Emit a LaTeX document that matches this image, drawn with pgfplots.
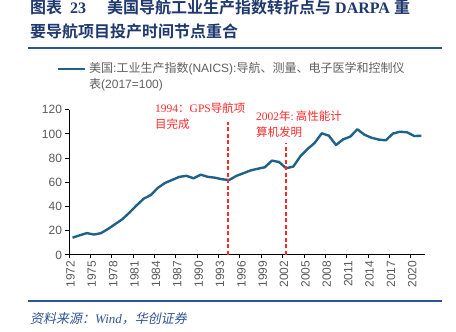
\documentclass[border=0pt]{standalone}
\usepackage{pgfplots}
\pgfplotsset{compat=1.18}
\usepackage{pgfplotstable}
\usepackage{fontspec}
\setmainfont{Liberation Sans}
\newfontfamily\cjk{Noto Sans CJK SC}
\newfontfamily\cjkb{Noto Sans CJK SC Bold}
\newfontfamily\cjki{Noto Sans CJK SC}[FakeSlant=0.2]
\newfontfamily\tnr{Liberation Serif}
\definecolor{lineblue}{RGB}{30,98,135}
\definecolor{titleblue}{RGB}{31,56,110}
\definecolor{rulecol}{RGB}{47,84,150}
\definecolor{tickgray}{RGB}{89,89,89}
\definecolor{legendgray}{RGB}{95,95,95}
\definecolor{annred}{RGB}{255,40,40}

\pgfplotstableread{
year val
1972 14.2
1973 16.2
1974 18.0
1975 16.8
1976 18.0
1977 21.5
1978 25.5
1979 29.5
1980 35.0
1981 41.0
1982 46.5
1983 49.5
1984 55.5
1985 59.5
1986 62.0
1987 64.5
1988 65.3
1989 63.3
1990 66.3
1991 64.5
1992 63.8
1993 62.5
1994 61.9
1995 65.3
1996 67.5
1997 69.8
1998 71.2
1999 72.4
2000 77.9
2001 76.8
2002 71.6
2003 73.0
2004 81.5
2005 87.5
2006 92.5
2007 100.5
2008 98.5
2009 90.8
2010 95.5
2011 97.7
2012 103.8
2013 99.3
2014 96.8
2015 95.3
2016 94.7
2017 100.3
2018 101.8
2019 101.3
2020 98.2
2021 98.5
}\datatab

\pgfplotstableread{
x y
1994.3 0
1994.3 110
}\gpsline
\pgfplotstableread{
x y
2002.46 0
2002.46 92.2
}\hpcline

\begin{document}
\begin{tikzpicture}
\path[use as bounding box] (0pt,0pt) rectangle (456pt,332pt);
\begin{axis}[
  at={(69pt,77.1pt)}, anchor=south west,
  scale only axis, width=356pt, height=145.2pt,
  xmin=1972, xmax=2022, ymin=0, ymax=120,
  axis x line=bottom, axis y line=left,
  axis line style={-, black, line width=0.8pt},
  xtick={1972,1975,...,2020}, ytick={0,20,...,120},
  tick align=outside, major tick length=3.5pt,
  tick style={black, line width=0.8pt},
  /pgf/number format/assume math mode=true,
  /pgf/number format/1000 sep={},
  x tick label style={rotate=90, anchor=east, font=\fontsize{12}{12}\selectfont, text=tickgray, xshift=1pt, yshift=-1.5pt},
  y tick label style={font=\fontsize{12}{12}\selectfont, text=tickgray},
  clip=false,
]
\addplot[lineblue, line width=2.4pt, line join=round, mark=none] table[x expr=\thisrow{year}+0.5, y=val]{\datatab};
\addplot[draw=annred, color=annred, line width=1.6pt, dash pattern=on 4pt off 2.5pt, mark=none] table[x=x, y=y]{\gpsline};
\addplot[draw=annred, color=annred, line width=1.3pt, dash pattern=on 4pt off 2.5pt, mark=none] table[x=x, y=y]{\hpcline};
\end{axis}
\begin{scope}[x=1pt,y=1pt]
% title
\node[anchor=west, inner sep=0, text=titleblue, font=\fontsize{16}{16}\selectfont] at (30,324.5) {{\cjkb 图表}\hspace{8pt}{\tnr\bfseries 23}};
\node[anchor=west, inner sep=0, text=titleblue, font=\fontsize{16}{16}\selectfont] at (107,324.5) {{\cjkb 美国导航工业生产指数转折点与}\hspace{4pt}{\tnr\bfseries DARPA}\hspace{4pt}{\cjkb 重}};
\node[anchor=west, inner sep=0, text=titleblue, font=\fontsize{16}{16}\selectfont] at (30,301) {\cjkb 要导航项目投产时间节点重合};
\draw[rulecol, line width=1.6pt] (28,284) -- (442,284);
% legend
\draw[lineblue, line width=2.6pt] (58,263) -- (85,263);
\node[anchor=west, inner sep=0, text=legendgray, font=\fontsize{12}{12}\selectfont] at (89,263) {{\cjk 美国}:{\cjk 工业生产指数}(NAICS):{\cjk 导航、测量、电子医学和控制仪}};
\node[anchor=west, inner sep=0, text=legendgray, font=\fontsize{12}{12}\selectfont] at (89,247) {{\cjk 表}(2017=100)};
% annotations
\node[anchor=west, inner sep=0, text=annred, font=\fontsize{11.5}{11.5}\selectfont] at (155,223.7) {{\tnr 1994}{\cjk ：}{\tnr GPS}{\cjk 导航项}};
\node[anchor=west, inner sep=0, text=annred, font=\fontsize{11.5}{11.5}\selectfont] at (155,207.7) {\cjk 目完成};
\node[anchor=west, inner sep=0, text=annred, font=\fontsize{11.5}{11.5}\selectfont] at (256,216.3) {{\tnr 2002}{\cjk 年}{\tnr :\,}{\cjk 高性能计}};
\node[anchor=west, inner sep=0, text=annred, font=\fontsize{11.5}{11.5}\selectfont] at (256,200.3) {\cjk 算机发明};
% source
\draw[rulecol, line width=1.2pt] (28,31) -- (442,31);
\node[anchor=west, inner sep=0, text=rulecol, font=\fontsize{13}{13}\selectfont] at (30,13.7) {{\cjki 资料来源：}{\tnr\itshape Wind}{\cjki ，华创证券}};
\end{scope}
\end{tikzpicture}
\end{document}
